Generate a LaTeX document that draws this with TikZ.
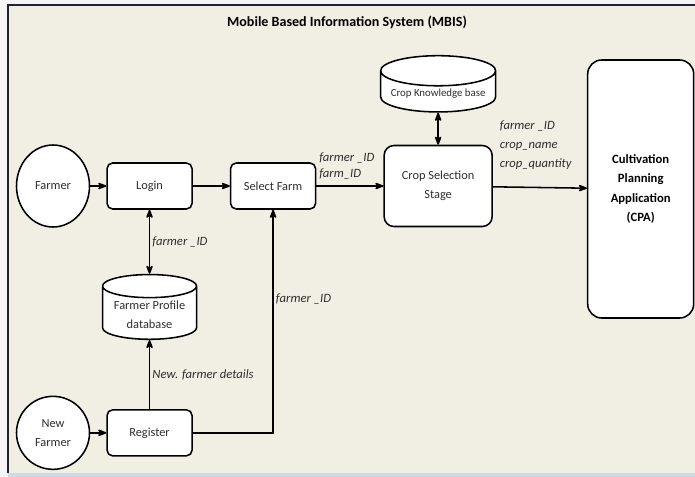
\documentclass[tikz,border=0pt]{standalone}
\usepackage{fontspec}
\setmainfont{Carlito}
\usetikzlibrary{positioning,arrows.meta,shapes.geometric}
\definecolor{paper}{HTML}{F1EEE4}
\definecolor{ink}{HTML}{2E2E2E}
\definecolor{winframe}{HTML}{1F2230}
\definecolor{barblue}{HTML}{C9DCEA}

\begin{document}
\begin{tikzpicture}[
    font=\fontsize{8.8}{13.5}\selectfont, >={Stealth[round]}, line width=1.1pt,
    box/.style={draw=black, rounded corners=4pt, fill=white, align=center, text=ink,
                minimum width=21.25mm, minimum height=11.5mm, inner sep=2pt},
    actor/.style={draw=black, ellipse, fill=white, align=center, text=ink,
                  minimum width=18.25mm, minimum height=18.25mm, inner sep=1pt},
    db/.style={draw=black, cylinder, shape border rotate=90, aspect=0.3, fill=white,
               align=center, text=ink, inner sep=2pt},
    lbl/.style={font=\fontsize{9}{11.5}\selectfont\itshape, text=ink, align=left, inner sep=1.5pt},
    flow/.style={->, draw=black},
]
\useasboundingbox (0,0) rectangle (17.375,-11.925);
% window
\fill[black!4] (0,0) rectangle (17.375,-11.925);
\fill[paper] (0.2,-0.125) rectangle (17.375,-11.82);
\fill[barblue] (0.2,-11.82) rectangle (17.375,-11.925);
\draw[winframe, line width=1.5pt] (0.2,-11.82) -- (0.2,-0.125) -- (17.375,-0.125);
\node[font=\fontsize{10}{12}\selectfont\bfseries] (title) at (8.675,-0.55)
    {Mobile Based Information System (MBIS)};

% login row
\node[actor, minimum height=20.5mm] (farmer) at (1.325,-4.65) {Farmer};
\node[box, right=4mm of farmer] (login) {Login};
\node[box, right=9.25mm of login] (selfarm) {Select Farm};
\node[box, right=16.75mm of selfarm, minimum width=27mm, minimum height=20.25mm,
      rounded corners=7pt] (css) {Crop Selection\\Stage};
\node[box, right=23.5mm of css, yshift=-0.75mm, minimum width=26.5mm, minimum height=64.5mm,
      rounded corners=10pt, text=black, font=\fontsize{9}{13.8}\selectfont\bfseries] (cpa)
    {Cultivation\\Planning\\Application\\(CPA)};
\node[db, above=8mm of css, minimum width=28.75mm, minimum height=12.75mm,
      font=\fontsize{7.7}{9}\selectfont] (ckb) {Crop Knowledge base};
\draw[flow] (farmer) -- (login);
\draw[flow] (login) -- (selfarm);
\draw[flow] (selfarm) -- (css)
    node[lbl, pos=0, above right, yshift=1mm] {farmer \_ID\\farm\_ID};
\draw[flow] (css) -- (cpa)
    node[lbl, pos=0, above right, xshift=1mm, yshift=3.5mm, font=\fontsize{9}{13.8}\selectfont\itshape]
    {farmer \_ID\\crop\_name\\crop\_quantity};
\draw[<->] (ckb) -- (css);

% registration
\node[db, below=16mm of login, minimum width=23.5mm, minimum height=15.75mm] (fpdb)
    {Farmer Profile\\database};
\node[box, below=17.25mm of fpdb] (register) {Register};
\node[actor, left=4mm of register] (newfarmer) {New\\Farmer};
\draw[<->] (login) -- (fpdb) node[lbl, midway, right] {farmer \_ID};
\draw[flow] (newfarmer) -- (register);
\draw[flow] (register) -- (fpdb) node[lbl, midway, right] {New. farmer details};
\draw[flow] (register) -| (selfarm) node[lbl, pos=0.8, right] {farmer \_ID};
\end{tikzpicture}
\end{document}
